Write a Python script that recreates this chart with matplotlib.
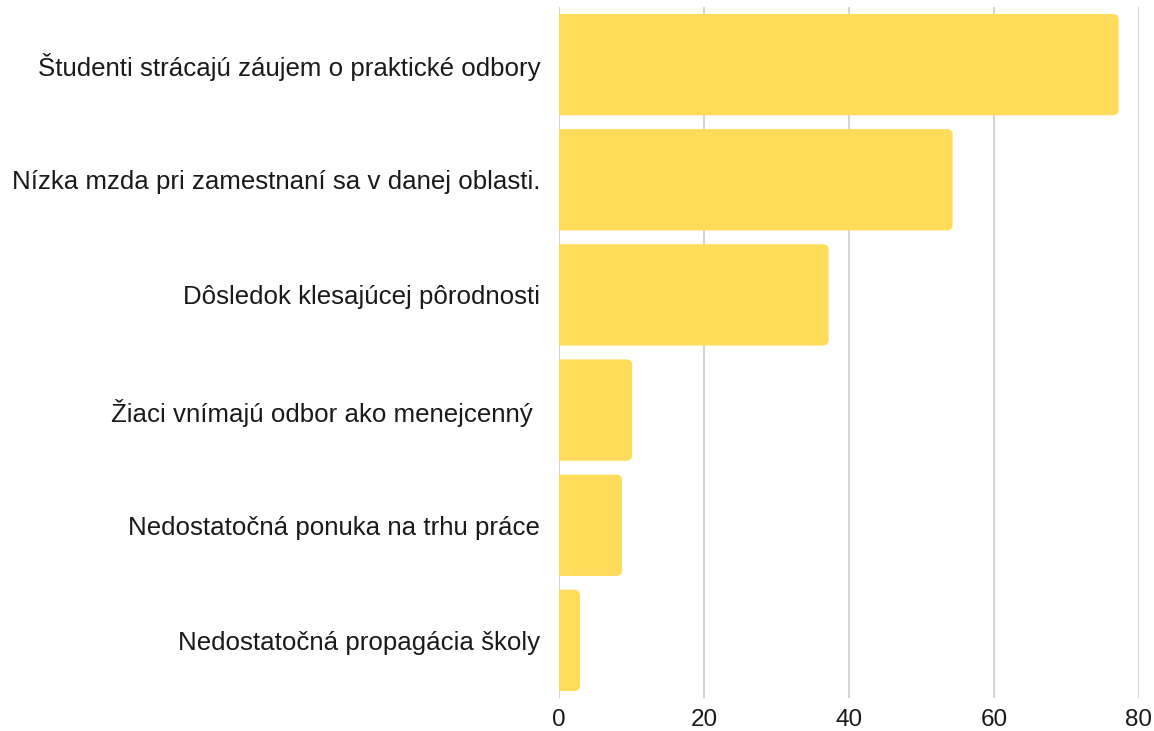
import matplotlib
matplotlib.use('Agg')
import matplotlib.pyplot as plt
from matplotlib.patches import FancyBboxPatch

plt.rcParams['font.family'] = ['Liberation Sans', 'DejaVu Sans']

categories = ['Študenti strácajú záujem o praktické odbory',
              'Nízka mzda pri zamestnaní sa v danej oblasti.',
              'Dôsledok klesajúcej pôrodnosti',
              'Žiaci vnímajú odbor ako menejcenný ',
              'Nedostatočná ponuka na trhu práce',
              'Nedostatočná propagácia školy']
values = [77.2, 54.3, 37.2, 10.1, 8.7, 2.9]
ticks = [0, 20, 40, 60, 80]

bar_color = '#FFDD5A'

fig = plt.figure(figsize=(11.54, 7.31), dpi=100)
ax = fig.add_axes([559 / 1154, 1 - 698 / 731, (1139 - 559) / 1154, (698 - 7) / 731])

ypos = list(range(len(categories)))
bars = ax.barh(ypos, values, height=0.88, color=bar_color)

# swap the plain rectangles for ones with rounded ends
for rect in bars:
    x0, y0 = rect.get_x(), rect.get_y()
    w, h = rect.get_width(), rect.get_height()
    rect.set_visible(False)
    box = FancyBboxPatch((x0 - 2, y0), w + 2, h,
                         boxstyle='round,pad=0,rounding_size=0.8',
                         mutation_aspect=0.064,
                         facecolor=bar_color, edgecolor='none', zorder=3)
    ax.add_patch(box)

ax.set_xlim(0, 80)
ax.set_ylim(len(categories) - 0.5, -0.5)
ax.set_xticks(ticks)
ax.set_xticklabels([str(t) for t in ticks])
ax.set_yticks(ypos)
ax.set_yticklabels(categories)

for t in ticks:
    ax.axvline(t, color='#cccccc', lw=1.2, zorder=1)

for s in ax.spines.values():
    s.set_visible(False)
ax.tick_params(axis='both', length=0)
ax.tick_params(axis='y', labelsize=18.6, pad=13.5, colors='#1a1a1a')
ax.tick_params(axis='x', labelsize=17.5, pad=8, colors='#1a1a1a')

fig.savefig('out.png', dpi=100)
